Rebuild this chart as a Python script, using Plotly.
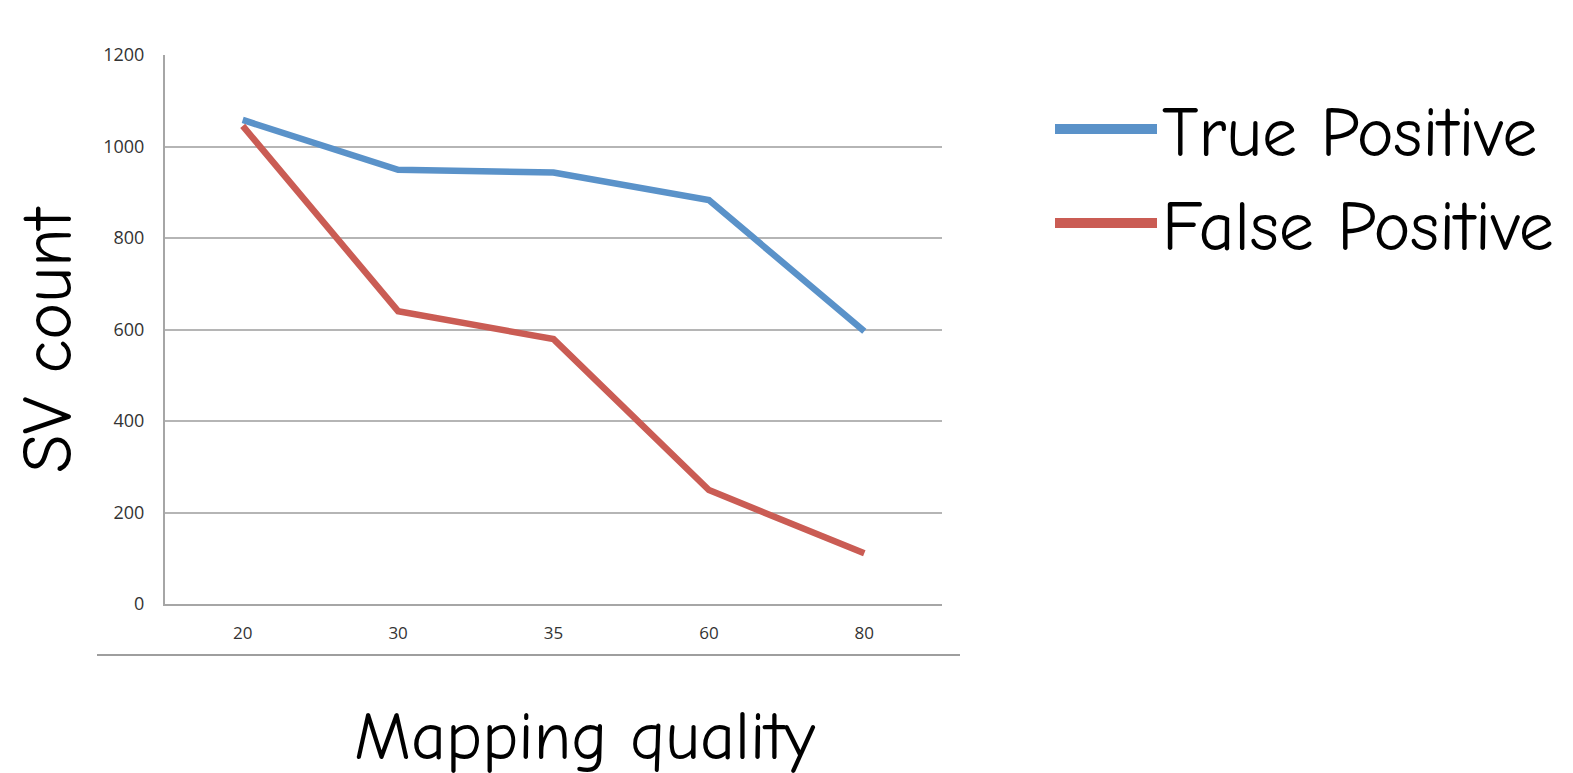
import plotly.graph_objects as go

categories = ["20", "30", "35", "60", "80"]
true_positive = [1058, 949, 943, 883, 596]
false_positive = [1045, 640, 579, 249, 111]
y_ticks = [0, 200, 400, 600, 800, 1000, 1200]

W, H = 1573, 773
OFF = 8  # page body margin offset
L, R, T, B = 165 - OFF, 942 - OFF, 55 - OFF, 604 - OFF

BLUE, RED = "#5A92C9", "#CA5C54"

fig = go.Figure()
fig.add_trace(go.Scatter(x=categories, y=true_positive, mode="lines", name="True Positive",
                         line=dict(color=BLUE, width=6.5), showlegend=False))
fig.add_trace(go.Scatter(x=categories, y=false_positive, mode="lines", name="False Positive",
                         line=dict(color=RED, width=6.5), showlegend=False))
# legend entries with thicker swatches
fig.add_trace(go.Scatter(x=[None], y=[None], mode="lines", name="True Positive",
                         line=dict(color=BLUE, width=10)))
fig.add_trace(go.Scatter(x=[None], y=[None], mode="lines", name="False Positive",
                         line=dict(color=RED, width=10)))

comic = "Comic Sans MS, Comic Neue, Lato, Noto Sans, sans-serif"
ytickfont = dict(family="Open Sans, Liberation Sans, sans-serif", size=18, color="#333333")
xtickfont = dict(family="Liberation Sans Narrow, Open Sans, sans-serif", size=17, color="#333333")

def px(xpix):
    return (xpix - OFF - L) / (R - L)

def py(ypix):
    return (B - (ypix - OFF)) / (B - T)

fig.update_layout(
    width=W, height=H,
    margin=dict(l=L, r=W - R, t=T, b=H - B),
    plot_bgcolor="white", paper_bgcolor="white",
    showlegend=True,
    legend=dict(xref="container", yref="container", x=(1050 - OFF) / W, y=1 - (77 - OFF) / H,
                xanchor="left", yanchor="top",
                font=dict(family=comic, size=70, color="black"),
                itemwidth=102, tracegroupgap=0, bgcolor="rgba(0,0,0,0)"),
    xaxis=dict(type="category", range=[-0.5, 4.5], showgrid=False,
               showline=True, linecolor="#A6A6A6", linewidth=2,
               ticks="", tickfont=xtickfont, ticklabelstandoff=13, zeroline=False),
    yaxis=dict(range=[0, 1200], tickvals=y_ticks, showgrid=True, gridcolor="#B5B5B5", gridwidth=1.5,
               showline=True, linecolor="#A6A6A6", linewidth=2,
               ticks="", tickfont=ytickfont, ticklabelstandoff=15, zeroline=False),
    annotations=[
        dict(text="SV count", xref="paper", yref="paper",
             x=px(48), y=py(340), textangle=-90,
             showarrow=False, font=dict(family=comic, size=70, color="black"),
             xanchor="center", yanchor="middle"),
        dict(text="Mapping quality", xref="paper", yref="paper",
             x=px(585), y=py(737),
             showarrow=False, font=dict(family=comic, size=68, color="black"),
             xanchor="center", yanchor="middle"),
    ],
    shapes=[dict(type="line", xref="paper", yref="paper",
                 x0=px(97), x1=px(960),
                 y0=py(655), y1=py(655),
                 line=dict(color="#9E9E9E", width=2))],
)

fig.write_html("out.html")
